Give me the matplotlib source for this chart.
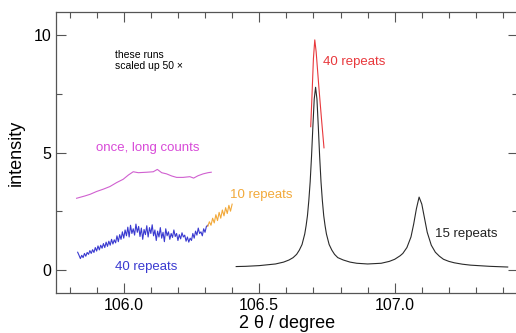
import numpy as np
import matplotlib
matplotlib.use("Agg")
import matplotlib.pyplot as plt
from matplotlib.ticker import MultipleLocator

plt.rcParams["font.family"] = ["Liberation Sans", "DejaVu Sans"]

# 15 repeats, full scan over both reflections
two_theta_15 = [106.415, 106.45, 106.50, 106.56, 106.59, 106.61, 106.625, 106.638, 106.648,
                106.658, 106.668, 106.673, 106.678, 106.683, 106.688, 106.693, 106.698,
                106.703, 106.708, 106.713, 106.718, 106.723, 106.728, 106.733, 106.738,
                106.743, 106.748, 106.758, 106.768, 106.778, 106.79, 106.81, 106.835,
                106.86, 106.90, 106.95, 106.98, 107.00, 107.02, 107.03, 107.045, 107.06,
                107.07, 107.08, 107.09, 107.10, 107.11, 107.12, 107.135, 107.15, 107.165,
                107.18, 107.20, 107.22, 107.25, 107.28, 107.35, 107.417]
int_15 = [0.14, 0.15, 0.18, 0.25, 0.33, 0.42, 0.52, 0.66, 0.84,
          1.08, 1.53, 1.88, 2.31, 2.95, 3.75, 4.83, 6.11,
          7.28, 7.78, 7.28, 6.11, 4.83, 3.75, 2.95, 2.31,
          1.88, 1.53, 1.08, 0.84, 0.66, 0.52, 0.42, 0.33,
          0.28, 0.25, 0.28, 0.36, 0.45, 0.60, 0.70, 0.95, 1.40,
          1.95, 2.60, 3.10, 2.80, 2.20, 1.60, 1.05, 0.75, 0.58,
          0.45, 0.36, 0.30, 0.24, 0.20, 0.15, 0.12]

# 40 repeats over the top of the first peak
two_theta_40_peak = [106.690, 106.695, 106.700, 106.705, 106.710, 106.720, 106.730, 106.739]
int_40_peak = [6.1, 7.5, 9.0, 9.8, 9.3, 7.8, 6.4, 5.2]

# weak region, scaled up 50x
two_theta_long = [105.826, 105.857, 105.876, 105.900, 105.925, 105.949, 105.974, 105.998,
                  106.017, 106.035, 106.054, 106.085, 106.109, 106.124, 106.140, 106.158,
                  106.177, 106.195, 106.219, 106.244, 106.258, 106.274, 106.293, 106.311,
                  106.323]
int_long = [3.05, 3.15, 3.22, 3.34, 3.44, 3.55, 3.72, 3.86,
            4.04, 4.18, 4.14, 4.16, 4.18, 4.28, 4.14, 4.09,
            4.00, 3.94, 3.94, 3.97, 3.91, 4.01, 4.09, 4.14,
            4.16]

# 40 repeats, start 105.83, step 0.005
start_40, step_40 = 105.83, 0.005
int_40 = [0.75, 0.62, 0.48, 0.62, 0.52, 0.70, 0.58, 0.74, 0.66, 0.82,
          0.70, 0.86, 0.74, 0.95, 0.80, 1.02, 0.85, 1.05, 0.92, 1.12,
          0.95, 1.18, 1.00, 1.22, 1.05, 1.30, 1.10, 1.28, 1.15, 1.45,
          1.20, 1.50, 1.30, 1.62, 1.35, 1.70, 1.45, 1.82, 1.40, 1.90,
          1.55, 1.75, 1.48, 1.95, 1.60, 1.85, 1.42, 1.78, 1.30, 1.72,
          1.50, 1.88, 1.40, 1.80, 1.55, 1.92, 1.45, 1.70, 1.25, 1.65,
          1.40, 1.80, 1.35, 1.60, 1.20, 1.75, 1.45, 1.62, 1.30, 1.55,
          1.38, 1.70, 1.42, 1.55, 1.25, 1.50, 1.32, 1.58, 1.40, 1.48,
          1.22, 1.40, 1.18, 1.35, 1.25, 1.55, 1.35, 1.65, 1.48, 1.78,
          1.55, 1.62, 1.45, 1.75, 1.60, 1.85, 1.90]

# 10 repeats, start 106.31, step 0.006
start_10, step_10 = 106.31, 0.006
int_10 = [1.85, 2.05, 1.90, 2.20, 2.00, 2.35, 2.10, 2.45, 2.20, 2.55,
          2.30, 2.65, 2.40, 2.75, 2.50, 2.80]

x_40 = start_40 + step_40 * np.arange(len(int_40))
x_10 = start_10 + step_10 * np.arange(len(int_10))

c_red = "#e8383c"
c_orange = "#f2a93a"
c_magenta = "#d84ad8"
c_blue = "#3a3ad0"

fig = plt.figure(figsize=(5.16, 3.33), dpi=100)
ax = fig.add_axes([56 / 516, 0.1192, 462 / 516, 0.8456])

ax.plot(two_theta_15, int_15, color="#2a2a2a", lw=0.8)
ax.plot(two_theta_40_peak, int_40_peak, color=c_red, lw=0.8)
ax.plot(two_theta_long, int_long, color="#d060d0", lw=0.8)
ax.plot(x_40, int_40, color=c_blue, lw=0.8)
ax.plot(x_10, int_10, color=c_orange, lw=0.8)

ax.text(105.968, 9.35, "these runs\nscaled up 50 \u00d7", fontsize=7.5,
        ha="left", va="top", linespacing=1.1)
ax.text(106.09, 5.19, "once, long counts", color=c_magenta, fontsize=9.5,
        ha="center", va="center")
ax.text(106.735, 8.85, "40 repeats", color=c_red, fontsize=9.5, va="center")
ax.text(106.392, 3.19, "10 repeats", color=c_orange, fontsize=9.5, va="center")
ax.text(105.968, 0.13, "40 repeats", color=c_blue, fontsize=9.5, va="center")
ax.text(107.148, 1.53, "15 repeats", color="#222222", fontsize=9.5, va="center")

ax.set_xlim(105.75, 107.455)
ax.set_ylim(-1, 11)
ax.xaxis.set_major_locator(MultipleLocator(0.5))
ax.xaxis.set_minor_locator(MultipleLocator(0.1))
ax.yaxis.set_major_locator(MultipleLocator(5))
ax.yaxis.set_minor_locator(MultipleLocator(2.5))
ax.xaxis.set_major_formatter(matplotlib.ticker.FormatStrFormatter("%.1f"))

ax.tick_params(which="both", direction="in", top=True, right=True,
               color="#555555", labelsize=11.5, width=0.8)
ax.tick_params(which="major", length=7)
ax.tick_params(which="minor", length=4)
for s in ax.spines.values():
    s.set_color("#555555")
    s.set_linewidth(0.9)

ax.set_xlabel("2 \u03b8 / degree", fontsize=13, labelpad=1)
ax.set_ylabel("intensity", fontsize=13, labelpad=6)

fig.savefig("out.png", dpi=100)
